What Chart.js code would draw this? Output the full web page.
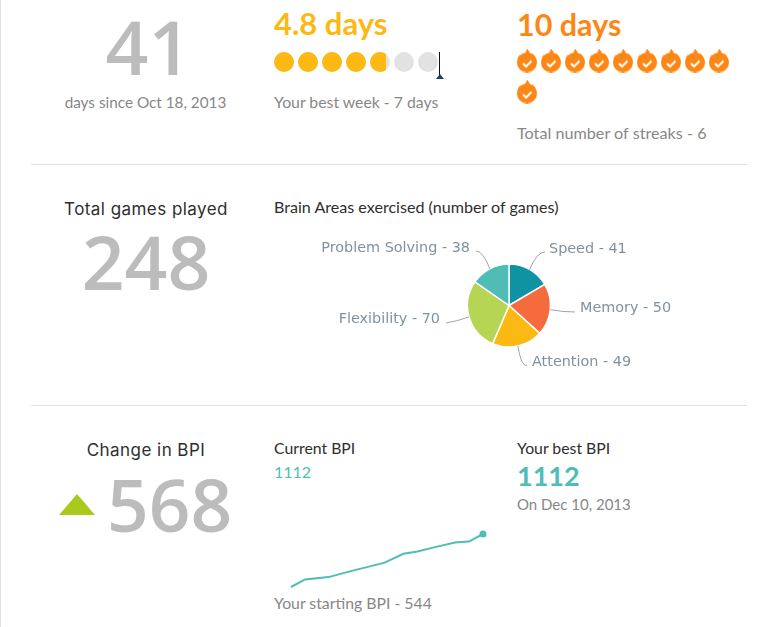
<!DOCTYPE html>
<html>
<head>
<meta charset="utf-8">
<style>
  html, body { margin: 0; padding: 0; background: #fff; }
  body { width: 773px; height: 627px; position: relative; overflow: hidden; font-family: Lato, sans-serif; }
  #edge { position: absolute; left: 0; top: 0; width: 1px; height: 627px; background: #e2e2e2; }
  .rule { position: absolute; left: 31px; width: 716px; height: 1px; background: #e0e0e0; }
  .t { position: absolute; white-space: nowrap; line-height: 1; }
  .c { transform: translateX(-50%); }
  .big { font-family: "Open Sans", sans-serif; font-weight: 600; color: #bcbcbc; }
  .head { font-family: Inter, sans-serif; font-size: 17px; letter-spacing: 0.45px; color: #2e2e2e; }
  .note { font-size: 16px; color: #878787; }
  canvas { position: absolute; }
  #tri { position: absolute; left: 59px; top: 494px; width: 36px; height: 21px; background: #a9c91d; clip-path: polygon(50% 0, 100% 100%, 0 100%); }
  #bestLine { position: absolute; left: 439px; top: 52px; width: 1px; height: 24px; background: #111; }
  #bestTip { position: absolute; left: 436px; top: 74px; width: 8px; height: 5px; background: #1d4257; clip-path: polygon(50% 0, 100% 100%, 0 100%); }
</style>
</head>
<body>
<div id="edge"></div>
<div class="rule" style="top:164px"></div>
<div class="rule" style="top:405px"></div>

<div class="t c big" style="left:148.5px;top:9px;font-size:75px">41</div>
<div class="t c note" style="left:145.5px;top:95px;font-size:15.3px">days since Oct 18, 2013</div>

<div class="t" style="left:274px;top:8px;font-size:31px;font-weight:700;color:#fdb913">4.8 days</div>
<div class="t note" style="left:274px;top:94px;font-size:15.8px">Your best week - 7 days</div>
<div id="bestLine"></div><div id="bestTip"></div>

<div class="t" style="left:517px;top:9px;font-size:30.5px;font-weight:700;color:#fd8716">10 days</div>
<div class="t note" style="left:517px;top:125px;font-size:16.2px">Total number of streaks - 6</div>

<div class="t c head" style="left:146px;top:201px">Total games played</div>
<div class="t c big" style="left:146px;top:224px;font-size:75px">248</div>
<div class="t" style="left:274px;top:199px;font-size:16.1px;color:#2e2e2e">Brain Areas exercised (number of games)</div>

<div class="t c head" style="left:146px;top:442px">Change in BPI</div>
<div id="tri"></div>
<div class="t big" style="left:107px;top:467px;font-size:73px">568</div>
<div class="t" style="left:274px;top:440px;font-size:15.8px;color:#2e2e2e">Current BPI</div>
<div class="t" style="left:274px;top:464px;font-size:16px;color:#4fbdb5">1112</div>
<div class="t" style="left:517px;top:440px;font-size:15.8px;color:#2e2e2e">Your best BPI</div>
<div class="t" style="left:517px;top:462px;font-size:27px;font-weight:700;color:#4fbdb5">1112</div>
<div class="t note" style="left:517px;top:497px;font-size:15px">On Dec 10, 2013</div>
<div class="t note" style="left:274px;top:595px;font-size:15.8px">Your starting BPI - 544</div>

<canvas id="week-chart" width="168" height="30" style="left:272px;top:47px"></canvas>
<canvas id="streak-chart" width="216" height="62" style="left:515px;top:45px"></canvas>
<canvas id="brain-chart" width="418" height="161" style="left:300px;top:225px"></canvas>
<canvas id="bpi-chart" width="212" height="73" style="left:281px;top:524px"></canvas>

<script src="https://cdn.jsdelivr.net/npm/chart.js@4/dist/chart.umd.min.js"></script>
<script>
// Data
const weekSlots = [1, 2, 3, 4, 5, 6, 7];
const weekAverage = 4.8;

const streakSlots = [1, 2, 3, 4, 5, 6, 7, 8, 9, 1];
const streakRows = [1, 1, 1, 1, 1, 1, 1, 1, 1, 2];

const brainAreas = ['Speed', 'Memory', 'Attention', 'Flexibility', 'Problem Solving'];
const brainGames = [41, 50, 49, 70, 38];
const brainColors = ['#0f93a2', '#f56b3d', '#fdb913', '#b7d555', '#4fbdb5'];

const bpiDays = [0, 3, 8, 13, 20, 24, 27, 31, 35, 38, 41];
const bpiValues = [544, 625, 650, 717, 805, 900, 925, 974, 1020, 1031, 1112];

Chart.defaults.animation = false;
Chart.defaults.responsive = false;
Chart.defaults.layout.autoPadding = false;
Chart.defaults.plugins.legend.display = false;
Chart.defaults.plugins.tooltip.enabled = false;

const hiddenLinear = (min, max, reverse) => ({ type: 'linear', display: false, min: min, max: max, reverse: !!reverse });

// Week dots, the last filled one is cut at the average
function dotImage(fill) {
  const c = document.createElement('canvas');
  c.width = 20;
  c.height = 20;
  const g = c.getContext('2d');
  g.fillStyle = '#e2e2e2';
  g.beginPath();
  g.arc(10, 10, 10, 0, Math.PI * 2);
  g.fill();
  g.save();
  g.beginPath();
  g.rect(0, 0, 20 * fill, 20);
  g.clip();
  g.fillStyle = '#fdb913';
  g.beginPath();
  g.arc(10, 10, 10, 0, Math.PI * 2);
  g.fill();
  g.restore();
  return c;
}

new Chart(document.getElementById('week-chart'), {
  type: 'scatter',
  data: {
    datasets: [{
      data: weekSlots.map(d => ({ x: d, y: 0 })),
      pointStyle: weekSlots.map(d => dotImage(Math.max(0, Math.min(1, weekAverage - d + 1))))
    }]
  },
  options: { scales: { x: hiddenLinear(0.5, 7.5), y: hiddenLinear(-1, 1) } }
});

// Streak flames
function flameImage() {
  const c = document.createElement('canvas');
  c.width = 20;
  c.height = 24;
  const g = c.getContext('2d');
  g.fillStyle = '#fd8716';
  g.beginPath();
  g.arc(10, 14, 10, 0, Math.PI * 2);
  g.fill();
  g.beginPath();
  g.moveTo(0.5, 12);
  g.quadraticCurveTo(1, 8, 3, 6);
  g.lineTo(5, 8);
  g.quadraticCurveTo(9, 5, 10, 0);
  g.quadraticCurveTo(13, 3, 13.5, 7);
  g.lineTo(15.5, 5);
  g.quadraticCurveTo(19.5, 9, 19.5, 13);
  g.closePath();
  g.fill();
  g.strokeStyle = '#fff';
  g.lineWidth = 2;
  g.beginPath();
  g.moveTo(6, 15);
  g.lineTo(9, 18);
  g.lineTo(14.5, 12.5);
  g.stroke();
  return c;
}

new Chart(document.getElementById('streak-chart'), {
  type: 'scatter',
  data: {
    datasets: [{
      data: streakSlots.map((d, i) => ({ x: d, y: streakRows[i] })),
      pointStyle: flameImage()
    }]
  },
  options: { scales: { x: hiddenLinear(0.5, 9.5), y: hiddenLinear(0.5, 2.5, true) } }
});

// Pie labels with leader lines
const labelSpots = [
  { x: 249, y: 24, lineX: 245, lineY: 27, bendX: 237, bendY: 27, align: 'left' },
  { x: 280, y: 83, lineX: 275, lineY: 87, bendX: 263, bendY: 87, align: 'left' },
  { x: 232, y: 137, lineX: 227, lineY: 141, bendX: 221, bendY: 141, align: 'left' },
  { x: 140, y: 94, lineX: 146, lineY: 98, bendX: 158, bendY: 96, align: 'right' },
  { x: 170, y: 23, lineX: 176, lineY: 26, bendX: 183, bendY: 26, align: 'right' }
];

const pieLabels = {
  id: 'pieLabels',
  afterDraw(chart) {
    const ctx = chart.ctx;
    const arcs = chart.getDatasetMeta(0).data;
    ctx.save();
    ctx.font = '14.4px "DejaVu Sans", sans-serif';
    ctx.textBaseline = 'middle';
    arcs.forEach((arc, i) => {
      const spot = labelSpots[i];
      const mid = (arc.startAngle + arc.endAngle) / 2;
      ctx.strokeStyle = '#9aa5ab';
      ctx.lineWidth = 1;
      ctx.beginPath();
      ctx.moveTo(arc.x + Math.cos(mid) * arc.outerRadius, arc.y + Math.sin(mid) * arc.outerRadius);
      ctx.quadraticCurveTo(spot.bendX, spot.bendY, spot.lineX, spot.lineY);
      ctx.stroke();
      ctx.fillStyle = '#80929e';
      ctx.textAlign = spot.align;
      ctx.fillText(brainAreas[i] + ' - ' + brainGames[i], spot.x, spot.y);
    });
    ctx.restore();
  }
};

new Chart(document.getElementById('brain-chart'), {
  type: 'pie',
  data: {
    labels: brainAreas,
    datasets: [{
      data: brainGames,
      backgroundColor: brainColors,
      borderColor: '#ffffff',
      borderWidth: 1.5
    }]
  },
  options: { radius: 41.5 },
  plugins: [pieLabels]
});

// BPI trend
new Chart(document.getElementById('bpi-chart'), {
  type: 'line',
  data: {
    labels: bpiDays,
    datasets: [{
      data: bpiDays.map((d, i) => ({ x: d, y: bpiValues[i] })),
      borderColor: '#4fbdb5',
      borderWidth: 2,
      tension: 0,
      clip: false,
      pointBackgroundColor: '#4fbdb5',
      pointBorderWidth: 0,
      pointRadius: bpiDays.map((d, i) => (i === bpiDays.length - 1 ? 3.5 : 0))
    }]
  },
  options: {
    layout: { padding: { left: 10, right: 10, top: 10, bottom: 10 } },
    scales: { x: hiddenLinear(0, 41), y: hiddenLinear(544, 1112) }
  }
});
</script>
</body>
</html>
